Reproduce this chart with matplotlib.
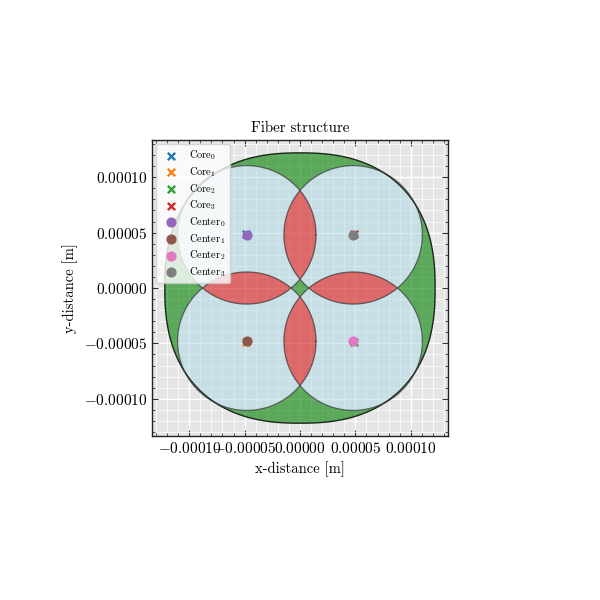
import numpy as np
import matplotlib
matplotlib.use("Agg")
import matplotlib.pyplot as plt
from matplotlib.path import Path
from matplotlib.patches import PathPatch
from matplotlib.ticker import MultipleLocator

# fiber geometry (m)
clad_radius = 122e-6
clad_shape = 2.4  # superellipse exponent of the cladding outline
core_radius = 62.5e-6
center_x = [-48e-6, -48e-6, 48e-6, 48e-6]
center_y = [48e-6, -48e-6, -48e-6, 48e-6]
core_x = [-49e-6, -49e-6, 49e-6, 49e-6]
core_y = [49e-6, -49e-6, -49e-6, 49e-6]
neighbours = [(0, 1), (1, 2), (2, 3), (3, 0)]
ax_lim = 133.6e-6

plt.rcParams['font.family'] = 'serif'
plt.rcParams['font.serif'] = ['cmr10']
plt.rcParams['mathtext.fontset'] = 'cm'
plt.rcParams['axes.formatter.use_mathtext'] = True
plt.rcParams['font.size'] = 11


def ray_hits(phi):
    # near / far intersection of rays from origin with every core circle
    u = np.stack([np.cos(phi), np.sin(phi)], axis=1)
    near = np.full(len(phi), np.inf)
    far = np.zeros(len(phi))
    for cx, cy in zip(center_x, center_y):
        b = u[:, 0] * cx + u[:, 1] * cy
        disc = b ** 2 - (cx ** 2 + cy ** 2) + core_radius ** 2
        ok = (disc >= 0) & (b > 0)
        s = np.sqrt(np.where(ok, disc, 0))
        near = np.where(ok, np.minimum(near, b - s), near)
        far = np.where(ok, np.maximum(far, b + s), far)
    return near, far


def lens(i, j, n=200):
    px, py = center_x[i], center_y[i]
    qx, qy = center_x[j], center_y[j]
    d = np.hypot(qx - px, qy - py)
    th = np.arctan2(qy - py, qx - px)
    al = np.arccos(d / (2 * core_radius))
    t1 = np.linspace(th - al, th + al, n)
    t2 = np.linspace(th + np.pi - al, th + np.pi + al, n)
    xs = np.concatenate([px + core_radius * np.cos(t1), qx + core_radius * np.cos(t2)])
    ys = np.concatenate([py + core_radius * np.sin(t1), qy + core_radius * np.sin(t2)])
    return np.column_stack([xs, ys])


def compound(parts):
    verts, codes = [], []
    for p in parts:
        verts.append(np.vstack([p, p[:1]]))
        codes += [Path.MOVETO] + [Path.LINETO] * (len(p) - 1) + [Path.CLOSEPOLY]
    return Path(np.vstack(verts), codes)


phi = np.linspace(0, 2 * np.pi, 3601)[:-1]
near, far = ray_hits(phi)
unit = np.column_stack([np.cos(phi), np.sin(phi)])
clad_rho = clad_radius / (np.abs(np.cos(phi)) ** clad_shape + np.abs(np.sin(phi)) ** clad_shape) ** (1 / clad_shape)
outer = unit * clad_rho[:, None]
union_out = unit * far[:, None]
union_in = unit * near[:, None]
ring_in = unit * np.minimum(far, clad_rho)[:, None]
lenses = [lens(i, j) for i, j in neighbours]

fig = plt.figure(figsize=(6, 6), dpi=100)
ax = fig.add_axes([0.2533, 0.2733, 0.4933, 0.4933])
ax.set_facecolor('#E5E5E5')
ax.set_axisbelow(True)

green = (0.0, 0.5, 0.0, 0.6)
blue = (0.678, 0.847, 0.902, 0.5)
red = (0.839, 0.153, 0.157, 0.65)

ax.add_patch(PathPatch(compound([outer, ring_in[::-1]]), facecolor=green, edgecolor='none', zorder=1))
ax.add_patch(PathPatch(compound([union_in]), facecolor=green, edgecolor='none', zorder=1))
ax.add_patch(PathPatch(compound([union_out, union_in[::-1]] + [l[::-1] for l in lenses]),
                       facecolor=blue, edgecolor='none', zorder=1))
for l in lenses:
    ax.add_patch(PathPatch(compound([l]), facecolor=red, edgecolor='none', zorder=1))
ax.add_patch(PathPatch(compound([outer]), fill=False, edgecolor=(0.1, 0.15, 0.1), lw=1.0, zorder=2))
t = np.linspace(0, 2 * np.pi, 400)
for cx, cy in zip(center_x, center_y):
    ax.plot(cx + core_radius * np.cos(t), cy + core_radius * np.sin(t),
            color=(0.2, 0.2, 0.2, 0.7), lw=0.9, zorder=2)

for k in range(4):
    ax.scatter(core_x[k], core_y[k], marker='x', s=28, lw=1.7, color=f'C{k}', label=rf'Core$_{k}$', zorder=3)
for k in range(4):
    ax.scatter(center_x[k], center_y[k], marker='o', s=40, color=f'C{k + 4}', label=rf'Center$_{k}$', zorder=4)

ax.set_xlim(-ax_lim, ax_lim)
ax.set_ylim(-ax_lim, ax_lim)
ax.set_aspect('equal')
ax.xaxis.set_major_locator(MultipleLocator(5e-5))
ax.yaxis.set_major_locator(MultipleLocator(5e-5))
ax.xaxis.set_minor_locator(MultipleLocator(1e-5))
ax.yaxis.set_minor_locator(MultipleLocator(1e-5))
ax.grid(which='major', color='white', lw=1.0)
ax.grid(which='minor', color='white', lw=0.5)
ax.tick_params(which='both', direction='in', top=True, right=True, color='#333333')
ax.tick_params(which='major', length=4, width=0.8)
ax.tick_params(which='minor', length=2, width=0.6)
for sp in ax.spines.values():
    sp.set_color('#222222')
    sp.set_linewidth(1.0)

ax.set_title('Fiber structure', fontsize=10.8)
ax.set_xlabel('x-distance [m]', fontsize=10.5)
ax.set_ylabel('y-distance [m]', fontsize=10.5)
ax.legend(loc='upper left', fontsize=7.5, framealpha=0.8, facecolor='white', edgecolor='#cccccc',
          borderaxespad=0.4, handletextpad=0.8, labelspacing=0.28)

fig.savefig('out.png', dpi=100)
plt.close(fig)
